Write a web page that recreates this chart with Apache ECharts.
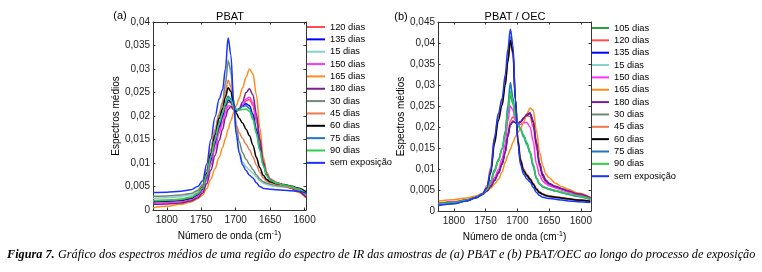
<!DOCTYPE html>
<html>
<head>
<meta charset="utf-8">
<script src="https://cdn.jsdelivr.net/npm/echarts@6/dist/echarts.min.js"></script>
<style>
  html, body { margin: 0; padding: 0; background: #fff; }
  #chart { width: 762px; height: 272px; }
</style>
</head>
<body>
<div id="chart"></div>
<script>
// wavenumbers (cm-1) sampled along each panel
var waveA = [1820, 1800, 1780, 1765, 1755, 1748, 1742, 1736, 1730, 1724, 1719, 1715, 1711, 1707, 1703, 1699, 1695, 1690, 1685, 1680, 1675, 1670, 1665, 1660, 1655, 1650, 1640, 1630, 1620, 1610, 1598];
var waveB = [1824, 1800, 1780, 1765, 1755, 1748, 1742, 1736, 1730, 1724, 1719, 1715, 1711, 1707, 1703, 1699, 1695, 1690, 1685, 1680, 1675, 1670, 1665, 1660, 1655, 1650, 1640, 1630, 1620, 1605, 1585];

// (a) PBAT
var pbat120 = [0.0016, 0.0017, 0.0019, 0.0023, 0.0031, 0.0043, 0.0068, 0.0103, 0.0138, 0.0172, 0.0195, 0.0215, 0.0230, 0.0228, 0.0218, 0.0212, 0.0214, 0.0222, 0.0232, 0.0235, 0.0222, 0.0190, 0.0148, 0.0105, 0.0078, 0.0065, 0.0058, 0.0053, 0.0049, 0.0043, 0.0030];
var pbat135 = [0.0017, 0.0018, 0.0020, 0.0024, 0.0032, 0.0044, 0.0070, 0.0106, 0.0142, 0.0176, 0.0200, 0.0222, 0.0234, 0.0230, 0.0218, 0.0212, 0.0215, 0.0222, 0.0226, 0.0222, 0.0204, 0.0172, 0.0134, 0.0098, 0.0075, 0.0064, 0.0057, 0.0053, 0.0049, 0.0044, 0.0032];
var pbat15 = [0.0025, 0.0026, 0.0028, 0.0032, 0.0040, 0.0052, 0.0080, 0.0120, 0.0160, 0.0200, 0.0225, 0.0265, 0.0320, 0.0290, 0.0215, 0.0160, 0.0125, 0.0102, 0.0092, 0.0085, 0.0078, 0.0070, 0.0062, 0.0057, 0.0054, 0.0052, 0.0050, 0.0049, 0.0047, 0.0043, 0.0032];
var pbat150 = [0.0015, 0.0016, 0.0018, 0.0022, 0.0029, 0.0040, 0.0063, 0.0096, 0.0130, 0.0164, 0.0186, 0.0207, 0.0222, 0.0221, 0.0214, 0.0210, 0.0214, 0.0224, 0.0236, 0.0240, 0.0228, 0.0197, 0.0153, 0.0108, 0.0080, 0.0066, 0.0058, 0.0053, 0.0048, 0.0042, 0.0029];
var pbat165 = [0.0005, 0.0008, 0.0012, 0.0017, 0.0024, 0.0032, 0.0046, 0.0066, 0.0088, 0.0112, 0.0133, 0.0152, 0.0172, 0.0190, 0.0207, 0.0222, 0.0238, 0.0260, 0.0283, 0.0300, 0.0290, 0.0245, 0.0175, 0.0112, 0.0080, 0.0066, 0.0058, 0.0053, 0.0047, 0.0038, 0.0026];
var pbat180 = [0.0012, 0.0013, 0.0015, 0.0019, 0.0026, 0.0036, 0.0056, 0.0085, 0.0116, 0.0148, 0.0172, 0.0196, 0.0214, 0.0220, 0.0214, 0.0210, 0.0215, 0.0230, 0.0250, 0.0258, 0.0245, 0.0205, 0.0150, 0.0102, 0.0076, 0.0064, 0.0057, 0.0052, 0.0047, 0.0040, 0.0027];
var pbat30 = [0.0029, 0.0030, 0.0032, 0.0035, 0.0042, 0.0054, 0.0085, 0.0128, 0.0168, 0.0205, 0.0230, 0.0270, 0.0316, 0.0298, 0.0235, 0.0180, 0.0146, 0.0122, 0.0108, 0.0097, 0.0086, 0.0075, 0.0066, 0.0060, 0.0057, 0.0055, 0.0052, 0.0050, 0.0048, 0.0044, 0.0034];
var pbat45 = [0.0020, 0.0021, 0.0023, 0.0027, 0.0036, 0.0050, 0.0085, 0.0130, 0.0172, 0.0205, 0.0225, 0.0250, 0.0276, 0.0262, 0.0215, 0.0180, 0.0165, 0.0152, 0.0140, 0.0128, 0.0113, 0.0096, 0.0080, 0.0068, 0.0061, 0.0058, 0.0054, 0.0051, 0.0048, 0.0043, 0.0032];
var pbat60 = [0.0018, 0.0019, 0.0021, 0.0025, 0.0034, 0.0048, 0.0078, 0.0120, 0.0160, 0.0195, 0.0215, 0.0240, 0.0260, 0.0252, 0.0225, 0.0206, 0.0195, 0.0185, 0.0172, 0.0158, 0.0138, 0.0112, 0.0090, 0.0074, 0.0065, 0.0060, 0.0056, 0.0054, 0.0051, 0.0047, 0.0039];
var pbat75 = [0.0019, 0.0020, 0.0022, 0.0026, 0.0034, 0.0046, 0.0074, 0.0112, 0.0150, 0.0185, 0.0208, 0.0228, 0.0242, 0.0236, 0.0222, 0.0214, 0.0215, 0.0220, 0.0222, 0.0216, 0.0196, 0.0165, 0.0128, 0.0095, 0.0074, 0.0064, 0.0057, 0.0053, 0.0050, 0.0045, 0.0034];
var pbat90 = [0.0020, 0.0021, 0.0023, 0.0027, 0.0035, 0.0047, 0.0075, 0.0113, 0.0150, 0.0184, 0.0206, 0.0226, 0.0239, 0.0234, 0.0220, 0.0213, 0.0212, 0.0214, 0.0215, 0.0210, 0.0192, 0.0163, 0.0127, 0.0094, 0.0073, 0.0063, 0.0057, 0.0053, 0.0050, 0.0045, 0.0033];
var pbatSem = [0.0037, 0.0038, 0.0040, 0.0043, 0.0050, 0.0062, 0.0098, 0.0150, 0.0198, 0.0236, 0.0256, 0.0300, 0.0366, 0.0330, 0.0230, 0.0160, 0.0122, 0.0096, 0.0084, 0.0074, 0.0068, 0.0058, 0.0050, 0.0046, 0.0045, 0.0044, 0.0043, 0.0042, 0.0041, 0.0040, 0.0036];

// (b) PBAT / OEC
var oec105 = [0.0017, 0.0020, 0.0026, 0.0033, 0.0041, 0.0051, 0.0069, 0.0093, 0.0118, 0.0147, 0.0180, 0.0232, 0.0276, 0.0255, 0.0220, 0.0204, 0.0194, 0.0178, 0.0160, 0.0138, 0.0108, 0.0078, 0.0064, 0.0058, 0.0055, 0.0052, 0.0048, 0.0044, 0.0040, 0.0035, 0.0028];
var oec120 = [0.0019, 0.0022, 0.0027, 0.0034, 0.0041, 0.0049, 0.0061, 0.0076, 0.0093, 0.0116, 0.0145, 0.0185, 0.0215, 0.0224, 0.0218, 0.0210, 0.0212, 0.0220, 0.0227, 0.0225, 0.0200, 0.0150, 0.0105, 0.0080, 0.0068, 0.0062, 0.0056, 0.0051, 0.0046, 0.0040, 0.0032];
var oec135 = [0.0018, 0.0021, 0.0026, 0.0033, 0.0040, 0.0048, 0.0059, 0.0073, 0.0090, 0.0112, 0.0140, 0.0178, 0.0205, 0.0213, 0.0210, 0.0208, 0.0212, 0.0220, 0.0228, 0.0232, 0.0212, 0.0160, 0.0112, 0.0085, 0.0072, 0.0065, 0.0058, 0.0052, 0.0047, 0.0040, 0.0031];
var oec15 = [0.0018, 0.0021, 0.0027, 0.0034, 0.0041, 0.0052, 0.0071, 0.0096, 0.0120, 0.0146, 0.0186, 0.0244, 0.0298, 0.0265, 0.0222, 0.0205, 0.0192, 0.0174, 0.0156, 0.0136, 0.0104, 0.0076, 0.0063, 0.0057, 0.0054, 0.0051, 0.0047, 0.0043, 0.0039, 0.0034, 0.0027];
var oec150 = [0.0018, 0.0021, 0.0026, 0.0033, 0.0041, 0.0050, 0.0064, 0.0080, 0.0098, 0.0125, 0.0160, 0.0215, 0.0250, 0.0240, 0.0215, 0.0207, 0.0206, 0.0210, 0.0211, 0.0200, 0.0165, 0.0112, 0.0085, 0.0071, 0.0065, 0.0060, 0.0055, 0.0050, 0.0045, 0.0039, 0.0031];
var oec165 = [0.0024, 0.0027, 0.0031, 0.0036, 0.0042, 0.0047, 0.0054, 0.0064, 0.0075, 0.0093, 0.0116, 0.0133, 0.0147, 0.0163, 0.0177, 0.0188, 0.0196, 0.0212, 0.0232, 0.0245, 0.0240, 0.0192, 0.0140, 0.0108, 0.0088, 0.0079, 0.0066, 0.0058, 0.0052, 0.0043, 0.0033];
var oec180 = [0.0017, 0.0020, 0.0025, 0.0032, 0.0039, 0.0047, 0.0058, 0.0072, 0.0089, 0.0111, 0.0140, 0.0178, 0.0206, 0.0214, 0.0211, 0.0209, 0.0213, 0.0222, 0.0230, 0.0234, 0.0215, 0.0165, 0.0115, 0.0088, 0.0074, 0.0066, 0.0059, 0.0053, 0.0048, 0.0041, 0.0032];
var oec30 = [0.0015, 0.0018, 0.0024, 0.0031, 0.0039, 0.0055, 0.0096, 0.0168, 0.0225, 0.0262, 0.0312, 0.0365, 0.0415, 0.0382, 0.0262, 0.0163, 0.0116, 0.0092, 0.0082, 0.0074, 0.0062, 0.0050, 0.0043, 0.0039, 0.0036, 0.0034, 0.0032, 0.0030, 0.0028, 0.0025, 0.0022];
var oec45 = [0.0017, 0.0020, 0.0026, 0.0033, 0.0041, 0.0060, 0.0105, 0.0175, 0.0228, 0.0262, 0.0305, 0.0355, 0.0400, 0.0372, 0.0268, 0.0172, 0.0125, 0.0100, 0.0088, 0.0078, 0.0066, 0.0054, 0.0046, 0.0041, 0.0038, 0.0036, 0.0034, 0.0032, 0.0030, 0.0027, 0.0024];
var oec60 = [0.0016, 0.0019, 0.0025, 0.0032, 0.0040, 0.0054, 0.0090, 0.0160, 0.0215, 0.0252, 0.0300, 0.0355, 0.0406, 0.0378, 0.0265, 0.0168, 0.0120, 0.0096, 0.0085, 0.0076, 0.0064, 0.0052, 0.0044, 0.0040, 0.0037, 0.0035, 0.0033, 0.0031, 0.0029, 0.0026, 0.0023];
var oec75 = [0.0017, 0.0020, 0.0026, 0.0033, 0.0041, 0.0052, 0.0072, 0.0098, 0.0122, 0.0148, 0.0190, 0.0250, 0.0306, 0.0270, 0.0225, 0.0208, 0.0196, 0.0178, 0.0160, 0.0140, 0.0108, 0.0078, 0.0064, 0.0058, 0.0055, 0.0052, 0.0048, 0.0044, 0.0040, 0.0035, 0.0028];
var oec90 = [0.0016, 0.0019, 0.0025, 0.0032, 0.0040, 0.0051, 0.0070, 0.0095, 0.0120, 0.0150, 0.0185, 0.0238, 0.0284, 0.0260, 0.0222, 0.0205, 0.0195, 0.0180, 0.0163, 0.0142, 0.0112, 0.0080, 0.0065, 0.0059, 0.0056, 0.0053, 0.0049, 0.0045, 0.0041, 0.0036, 0.0029];
var oecSem = [0.0013, 0.0017, 0.0024, 0.0032, 0.0040, 0.0055, 0.0095, 0.0175, 0.0232, 0.0268, 0.0325, 0.0385, 0.0433, 0.0395, 0.0265, 0.0160, 0.0110, 0.0087, 0.0076, 0.0069, 0.0056, 0.0044, 0.0037, 0.0033, 0.0031, 0.0030, 0.0028, 0.0026, 0.0024, 0.0022, 0.0020];

var namesA = ['120 dias', '135 dias', '15 dias', '150 dias', '165 dias', '180 dias', '30 dias', '45 dias', '60 dias', '75 dias', '90 dias', 'sem exposição'];
var valuesA = [pbat120, pbat135, pbat15, pbat150, pbat165, pbat180, pbat30, pbat45, pbat60, pbat75, pbat90, pbatSem];
var namesB = ['105 dias', '120 dias', '135 dias', '15 dias', '150 dias', '165 dias', '180 dias', '30 dias', '45 dias', '60 dias', '75 dias', '90 dias', 'sem exposição'];
var valuesB = [oec105, oec120, oec135, oec15, oec150, oec165, oec180, oec30, oec45, oec60, oec75, oec90, oecSem];

var xTicks = [1600, 1650, 1700, 1750, 1800];

var colors = {
  '105 dias': '#2e9e3e',
  '120 dias': '#ff4d4d',
  '135 dias': '#0000ff',
  '15 dias': '#86d0cc',
  '150 dias': '#ff33ff',
  '165 dias': '#ff8c1a',
  '180 dias': '#7b1f8c',
  '30 dias': '#6f8a78',
  '45 dias': '#ec7a4f',
  '60 dias': '#000000',
  '75 dias': '#1f77c4',
  '90 dias': '#33cc4d',
  'sem exposição': '#1a33ff'
};

var font = 'Liberation Sans';
var axisColor = '#333';

function fmtY(v) {
  return v === 0 ? '0' : String(+v.toFixed(3)).replace('.', ',');
}

function xAxes(grid, min, max) {
  var common = {
    type: 'value', gridIndex: grid, min: min, max: max, inverse: true,
    axisLine: { show: true, onZero: false, lineStyle: { color: axisColor, width: 1 } },
    splitLine: { show: false }
  };
  var bottom = Object.assign({}, common, {
    position: 'bottom',
    name: 'Número de onda (cm{sup|-1})',
    nameLocation: 'middle', nameGap: 19,
    nameTextStyle: { fontFamily: font, fontSize: 10, color: '#000', rich: { sup: { fontSize: 7, verticalAlign: 'top', padding: [0, 0, 6, 0], fontFamily: font, color: '#000' } } },
    axisTick: { inside: true, length: 2.5, customValues: xTicks, lineStyle: { color: axisColor } },
    axisLabel: { customValues: xTicks, margin: 5, fontFamily: font, fontSize: 10, color: '#222', formatter: function (v) { return String(v); } }
  });
  var top = Object.assign({}, common, {
    position: 'top',
    axisTick: { inside: true, length: 2.5, customValues: xTicks, lineStyle: { color: axisColor } },
    axisLabel: { show: false }
  });
  return [bottom, top];
}

function yAxes(grid, max) {
  var common = {
    type: 'value', gridIndex: grid, min: 0, max: max, interval: 0.005,
    axisLine: { show: true, onZero: false, lineStyle: { color: axisColor, width: 1 } },
    axisTick: { show: true, inside: true, length: 2.5, lineStyle: { color: axisColor } },
    splitLine: { show: false }
  };
  var left = Object.assign({}, common, {
    position: 'left',
    name: 'Espectros médios', nameLocation: 'middle', nameGap: 27,
    nameTextStyle: { fontFamily: font, fontSize: 10, color: '#000' },
    axisLabel: { formatter: fmtY, margin: 3, fontFamily: font, fontSize: 10, color: '#222' }
  });
  var right = Object.assign({}, common, { position: 'right', axisLabel: { show: false } });
  return [left, right];
}

function makeSeries(names, values, waves, axisIdx) {
  return names.map(function (name, k) {
    return {
      name: name, type: 'line', xAxisIndex: axisIdx, yAxisIndex: axisIdx,
      data: waves.map(function (w, i) { return [w, values[k][i]]; }),
      symbol: 'none', smooth: 0.35, smoothMonotone: 'x',
      color: colors[name],
      lineStyle: { width: 1.5, color: colors[name] },
      silent: true, animation: false
    };
  });
}

function legend(names, left, top, iconW) {
  return {
    orient: 'vertical', left: left, top: top, data: names, padding: 0,
    icon: 'rect', itemWidth: iconW, itemHeight: 2, itemGap: 0.35,
    selectedMode: false,
    textStyle: { fontFamily: font, fontSize: 9.3, color: '#000', lineHeight: 12 }
  };
}

var caption = 'Gráfico dos espectros médios de uma região do espectro de IR das amostras de (a) PBAT e (b) PBAT/OEC ao longo do processo de exposição';
var capFont = '"Liberation Serif"';
var capSize = 12;
var ctx = document.createElement('canvas').getContext('2d');
ctx.font = 'italic bold ' + capSize + 'px ' + capFont;
var capW = ctx.measureText('Figura 7. ').width;
ctx.font = 'italic ' + capSize + 'px ' + capFont;
capW += ctx.measureText(caption).width;
var capScale = 748 / capW;

var chart = echarts.init(document.getElementById('chart'), null, { renderer: 'canvas' });
chart.setOption({
  backgroundColor: '#fff',
  animation: false,
  grid: [
    { left: 153, top: 22, width: 153, height: 188 },
    { left: 438, top: 22, width: 153, height: 189 }
  ],
  xAxis: xAxes(0, 1598, 1820).concat(xAxes(1, 1584, 1825)),
  yAxis: yAxes(0, 0.04).concat(yAxes(1, 0.045)),
  legend: [legend(namesA, 307, 21, 18), legend(namesB, 592, 22, 17)],
  series: makeSeries(namesA, valuesA, waveA, 0).concat(makeSeries(namesB, valuesB, waveB, 2)),
  graphic: [
    { type: 'text', x: 230, y: 17, style: { text: 'PBAT', align: 'center', verticalAlign: 'middle', font: '11px "Liberation Sans"', fill: '#000' } },
    { type: 'text', x: 120, y: 16, style: { text: '(a)', align: 'center', verticalAlign: 'middle', font: '11px "Liberation Sans"', fill: '#000' } },
    { type: 'text', x: 515, y: 17, style: { text: 'PBAT / OEC', align: 'center', verticalAlign: 'middle', font: '11px "Liberation Sans"', fill: '#000' } },
    { type: 'text', x: 401, y: 17, style: { text: '(b)', align: 'center', verticalAlign: 'middle', font: '11px "Liberation Sans"', fill: '#000' } },
    {
      type: 'text', x: 7, y: 255, scaleX: capScale,
      style: {
        text: '{b|Figura 7.} {n|' + caption + '}',
        verticalAlign: 'middle',
        rich: {
          b: { fontFamily: 'Liberation Serif', fontStyle: 'italic', fontWeight: 'bold', fontSize: capSize, fill: '#000' },
          n: { fontFamily: 'Liberation Serif', fontStyle: 'italic', fontSize: capSize, fill: '#000' }
        }
      }
    }
  ]
});
</script>
</body>
</html>
